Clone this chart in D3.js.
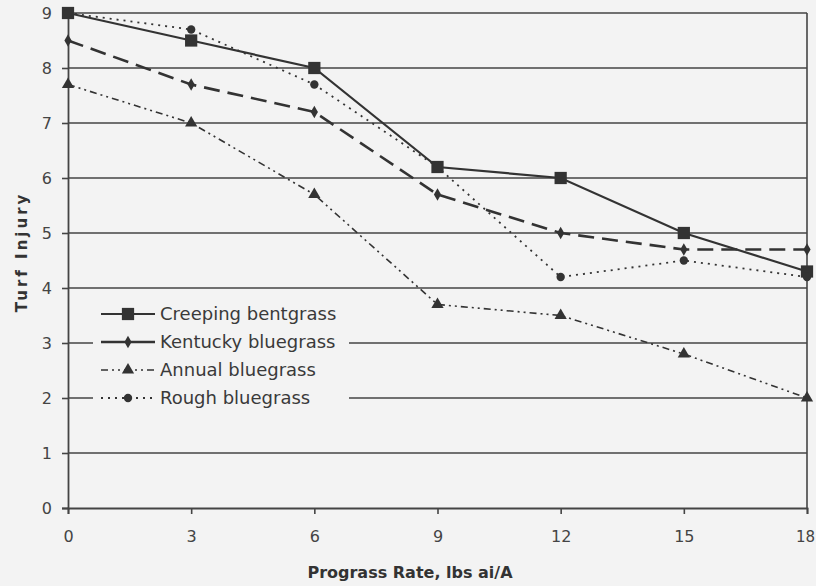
<!DOCTYPE html>
<html>
<head>
<meta charset="utf-8">
<script src="https://cdn.jsdelivr.net/npm/d3@7"></script>
<style>
  html, body { margin: 0; padding: 0; background: #f3f3f3; }
  svg { display: block; font-family: "DejaVu Sans", sans-serif; }
</style>
</head>
<body>
<svg id="chart" width="816" height="586"></svg>
<script>
// Application rates (lbs ai/A)
const rates = [0, 3, 6, 9, 12, 15, 18];

// Turf injury ratings per grass species
const creepingBentgrass = [9.0, 8.5, 8.0, 6.2, 6.0, 5.0, 4.3];
const kentuckyBluegrass = [8.5, 7.7, 7.2, 5.7, 5.0, 4.7, 4.7];
const annualBluegrass   = [7.7, 7.0, 5.7, 3.7, 3.5, 2.8, 2.0];
const roughBluegrass    = [9.0, 8.7, 7.7, 6.2, 4.2, 4.5, 4.2];

const seriesNames = ["Creeping bentgrass", "Kentucky bluegrass", "Annual bluegrass", "Rough bluegrass"];
const yTicks = [0, 1, 2, 3, 4, 5, 6, 7, 8, 9];

const styles = [
  { dash: null,            width: 2.2, marker: "square",   size: 150 },
  { dash: "16,8",          width: 2.6, marker: "diamond",  size: 45 },
  { dash: "7,4,2,4,2,4",   width: 1.6, marker: "triangle", size: 65 },
  { dash: "2,5",           width: 1.8, marker: "circle",   size: 55 }
];
const valuesList = [creepingBentgrass, kentuckyBluegrass, annualBluegrass, roughBluegrass];

const ink = "#333";
const svg = d3.select("#chart");
const margin = { left: 68, right: 9, top: 13, bottom: 78 };
const W = 816, H = 586;

const x = d3.scaleLinear().domain([0, 18]).range([margin.left, W - margin.right]);
const y = d3.scaleLinear().domain([0, 9]).range([H - margin.bottom, margin.top]);

// Horizontal gridlines
svg.append("g")
  .selectAll("line")
  .data(yTicks.slice(1))
  .join("line")
  .attr("x1", x(0)).attr("x2", x(18))
  .attr("y1", d => y(d)).attr("y2", d => y(d))
  .attr("stroke", "#444").attr("stroke-width", 1.6);

// Right border of plot
svg.append("line")
  .attr("x1", x(18)).attr("x2", x(18))
  .attr("y1", y(9)).attr("y2", y(0))
  .attr("stroke", "#444").attr("stroke-width", 1.6);

// Axes
const xAxis = d3.axisBottom(x).tickValues(rates).tickSize(6).tickPadding(17).tickFormat(d3.format("d"));
const yAxis = d3.axisLeft(y).tickValues(yTicks).tickSize(6).tickPadding(10).tickFormat(d3.format("d"));

const gx = svg.append("g").attr("transform", `translate(0,${y(0)})`).call(xAxis);
const gy = svg.append("g").attr("transform", `translate(${x(0)},0)`).call(yAxis);
[gx, gy].forEach(g => {
  g.select(".domain").attr("stroke", "#444").attr("stroke-width", 1.8);
  g.selectAll(".tick line").attr("stroke", "#444").attr("stroke-width", 1.6);
  g.selectAll(".tick text").attr("fill", "#444").style("font-size", "16px")
    .style("font-family", "'DejaVu Sans', sans-serif");
});
gy.selectAll(".tick text").attr("dy", "0.35em");
// keep the last rate label inside the page edge
gx.selectAll(".tick text").filter(d => d === 18).attr("dx", "-2px").style("font-size", "15px");

// Axis titles
svg.append("text")
  .attr("x", 410).attr("y", 578)
  .attr("text-anchor", "middle")
  .attr("fill", ink)
  .style("font-weight", "bold").style("font-size", "16px")
  .text("Prograss Rate, lbs ai/A");

svg.append("text")
  .attr("transform", `translate(27,252) rotate(-90)`)
  .attr("text-anchor", "middle")
  .attr("fill", ink)
  .style("font-weight", "bold").style("font-size", "15px")
  .style("letter-spacing", "3px")
  .text("Turf Injury");

const symbolOf = {
  square: d3.symbolSquare,
  diamond: d3.symbolDiamond,
  triangle: d3.symbolTriangle,
  circle: d3.symbolCircle
};

const line = d3.line().x((d, i) => x(rates[i])).y(d => y(d));

// Series lines and markers
valuesList.forEach((vals, k) => {
  const s = styles[k];
  svg.append("path")
    .datum(vals)
    .attr("d", line)
    .attr("fill", "none")
    .attr("stroke", ink)
    .attr("stroke-width", s.width)
    .attr("stroke-dasharray", s.dash);
  svg.append("g")
    .selectAll("path")
    .data(vals)
    .join("path")
    .attr("transform", (d, i) => `translate(${x(rates[i])},${y(d)})`)
    .attr("d", d3.symbol().type(symbolOf[s.marker]).size(s.size))
    .attr("fill", ink);
});

// Legend (background hides gridlines behind it)
const legend = svg.append("g");
legend.append("rect")
  .attr("x", 93).attr("y", 295).attr("width", 256).attr("height", 115)
  .attr("fill", "#f3f3f3");
const rowY = d3.scalePoint().domain(seriesNames).range([314, 398]);
seriesNames.forEach((name, k) => {
  const s = styles[k];
  const cy = rowY(name);
  legend.append("line")
    .attr("x1", 101).attr("x2", 155).attr("y1", cy).attr("y2", cy)
    .attr("stroke", ink).attr("stroke-width", s.width)
    .attr("stroke-dasharray", k === 1 ? null : s.dash);
  legend.append("path")
    .attr("transform", `translate(128,${cy})`)
    .attr("d", d3.symbol().type(symbolOf[s.marker]).size(s.size))
    .attr("fill", ink);
  legend.append("text")
    .attr("x", 160).attr("y", cy).attr("dy", "0.35em")
    .attr("fill", "#3a3a3a")
    .style("font-size", "18px")
    .text(name);
});
</script>
</body>
</html>
